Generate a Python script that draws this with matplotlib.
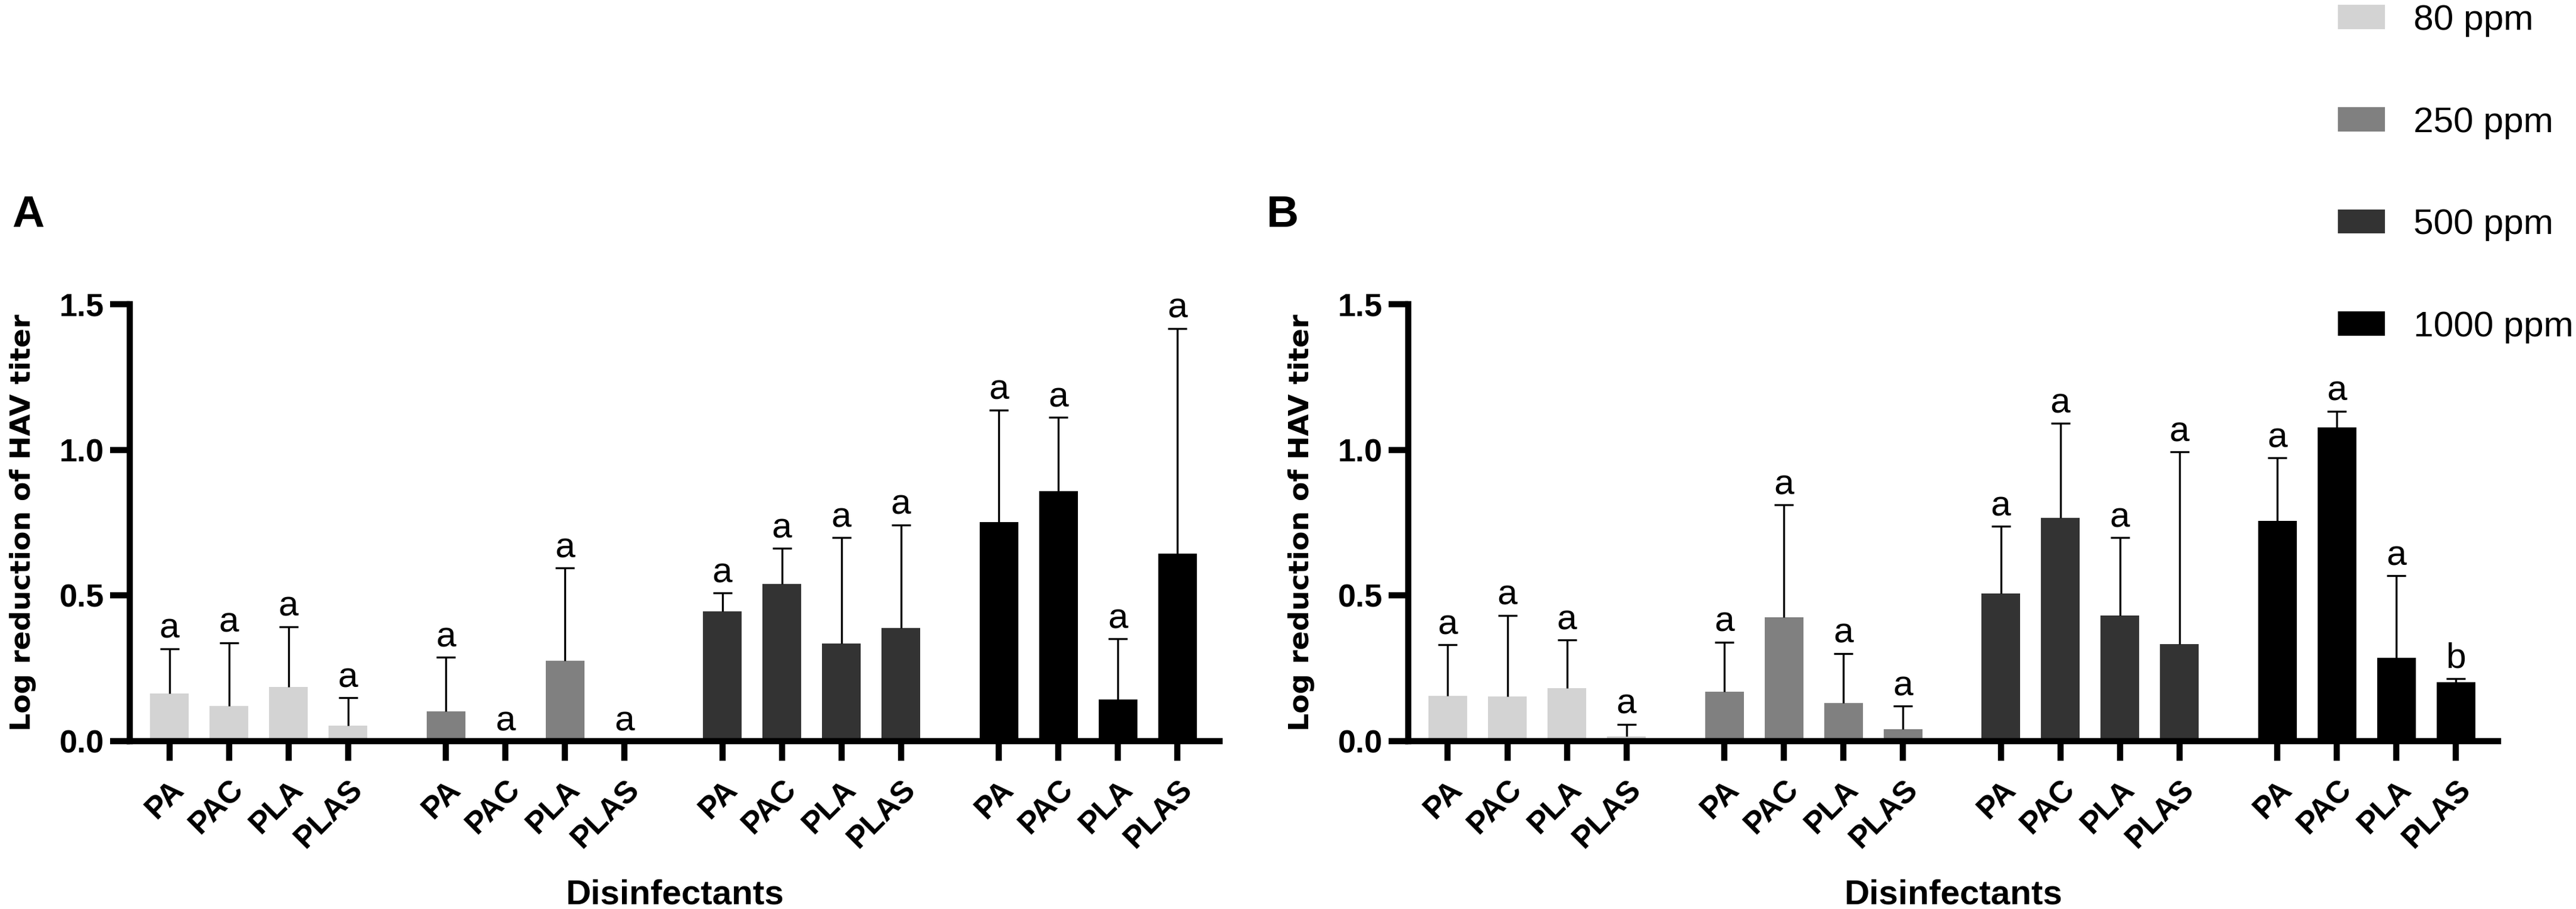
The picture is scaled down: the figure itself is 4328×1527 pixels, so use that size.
import matplotlib.pyplot as plt
from matplotlib.transforms import ScaledTranslation
import numpy as np

plt.rcParams['font.family'] = ['Liberation Sans', 'DejaVu Sans']

disinfectants = ['PA', 'PAC', 'PLA', 'PLAS']
concentrations = ['80 ppm', '250 ppm', '500 ppm', '1000 ppm']
bar_colors = ['#d3d3d3', '#808080', '#333333', '#000000']

# Panel A: mean log reduction, one row per concentration
mean_a = [[0.163, 0.120, 0.186, 0.053],
          [0.103, 0.000, 0.275, 0.000],
          [0.446, 0.540, 0.335, 0.389],
          [0.753, 0.858, 0.144, 0.644]]
sd_a = [[0.154, 0.218, 0.207, 0.096],
        [0.185, 0.000, 0.319, 0.000],
        [0.063, 0.122, 0.364, 0.353],
        [0.384, 0.253, 0.207, 0.773]]
letters_a = [['a', 'a', 'a', 'a'],
             ['a', 'a', 'a', 'a'],
             ['a', 'a', 'a', 'a'],
             ['a', 'a', 'a', 'a']]

# Panel B
mean_b = [[0.156, 0.153, 0.182, 0.017],
          [0.170, 0.425, 0.130, 0.040],
          [0.507, 0.767, 0.432, 0.334],
          [0.756, 1.077, 0.286, 0.203]]
sd_b = [[0.175, 0.279, 0.165, 0.041],
        [0.170, 0.386, 0.171, 0.080],
        [0.230, 0.324, 0.266, 0.659],
        [0.216, 0.056, 0.282, 0.012]]
letters_b = [['a', 'a', 'a', 'a'],
             ['a', 'a', 'a', 'a'],
             ['a', 'a', 'a', 'a'],
             ['a', 'a', 'a', 'b']]

GROUP_STEP = 4.645
BAR_W = 0.65


def draw_panel(fig, ax, means, sds, letters):
    all_pos = []
    bars = []
    for g, conc in enumerate(concentrations):
        x = g * GROUP_STEP + np.arange(len(disinfectants))
        m = np.array(means[g])
        s = np.array(sds[g])
        b = ax.bar(x, m, BAR_W, color=bar_colors[g], label=conc, zorder=2)
        bars.append(b)
        _, caps, _ = ax.errorbar(x, m, yerr=[np.zeros_like(s), s], fmt='none',
                                 ecolor='black', elinewidth=0.8, capsize=3.9,
                                 capthick=0.8, zorder=3)
        # hide the lower caps (only the upper bar is shown)
        for c in caps:
            if np.allclose(c.get_ydata(), m):
                c.set_visible(False)
        for xi, top, lt in zip(x, m + s, letters[g]):
            ax.annotate(lt, (xi, top), xytext=(0, 4.3), textcoords='offset points',
                        ha='center', va='baseline', fontsize=14.5)
        all_pos.extend(x)

    ax.set_xlim(-0.665, all_pos[-1] + 0.71)
    ax.set_ylim(0, 1.5)
    ax.set_yticks([0, 0.5, 1.0, 1.5], ['0.0', '0.5', '1.0', '1.5'],
                  fontsize=13, fontweight='bold')
    ax.set_xticks(all_pos, disinfectants * len(concentrations), rotation=45,
                  ha='right', va='top', rotation_mode='anchor',
                  fontsize=12.5, fontweight='bold')
    shift = ScaledTranslation(-3 / 72, 0, fig.dpi_scale_trans)
    for lbl in ax.get_xticklabels():
        lbl.set_transform(lbl.get_transform() + shift)
    for side in ['top', 'right']:
        ax.spines[side].set_visible(False)
    for side in ['left', 'bottom']:
        ax.spines[side].set_linewidth(2.5)
    ax.tick_params(axis='y', length=8, width=2.5, pad=2.4)
    ax.tick_params(axis='x', length=8, width=2.5, pad=5.5)

    ax.set_ylabel('Log reduction of HAV titer', fontsize=11.4, fontweight='bold',
                  family='DejaVu Sans')
    ax.yaxis.set_label_coords(-0.0857, 0.5)
    ax.set_xlabel('Disinfectants', fontsize=14, fontweight='bold')
    ax.xaxis.label.set_va('baseline')
    ax.xaxis.set_label_coords(0.5, -0.373)
    return bars


fig = plt.figure(figsize=(4328 / 300, 1527 / 300), dpi=300)
ax_a = fig.add_axes([0.05037, 0.18468, 0.4231, 0.48068])
ax_b = fig.add_axes([0.54667, 0.18468, 0.4231, 0.48068])

bars = draw_panel(fig, ax_a, mean_a, sd_a, letters_a)
draw_panel(fig, ax_b, mean_b, sd_b, letters_b)

fig.text(0.0046, 0.7505, 'A', fontsize=18, fontweight='bold', va='baseline')
fig.text(0.4917, 0.7505, 'B', fontsize=18, fontweight='bold', va='baseline')

fig.legend(bars, concentrations, loc='upper left', bbox_to_anchor=(0.9075, 0.9954),
           frameon=False, fontsize=14.5, handlelength=1.32, handleheight=0.66,
           handletextpad=0.78, labelspacing=1.93, borderaxespad=0, borderpad=0)

fig.savefig('out.png', dpi=300)
